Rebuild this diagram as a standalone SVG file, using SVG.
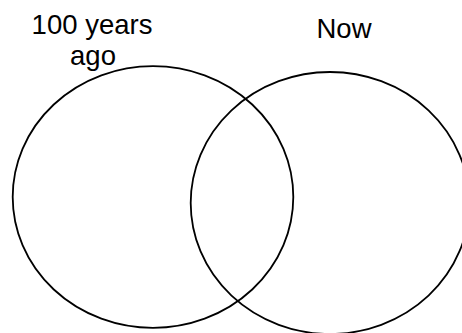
<svg xmlns="http://www.w3.org/2000/svg" width="462" height="333" viewBox="0 0 462 333">
<style>
.c{fill:none;stroke:#000;stroke-width:1.8}
.t{font-family:"Liberation Sans",Arial,sans-serif;font-size:27.5px;fill:#000;text-anchor:middle}
</style>
<rect width="462" height="333" fill="#fff"/>
<g id="past">
<ellipse class="c" cx="153" cy="197" rx="140.3" ry="130.8"/>
<text class="t" x="92" y="34">100 years</text>
<text class="t" x="93" y="65">ago</text>
</g>
<g id="now">
<ellipse class="c" cx="330" cy="203" rx="139.3" ry="131"/>
<text class="t" x="344" y="37.7">Now</text>
</g>
</svg>
